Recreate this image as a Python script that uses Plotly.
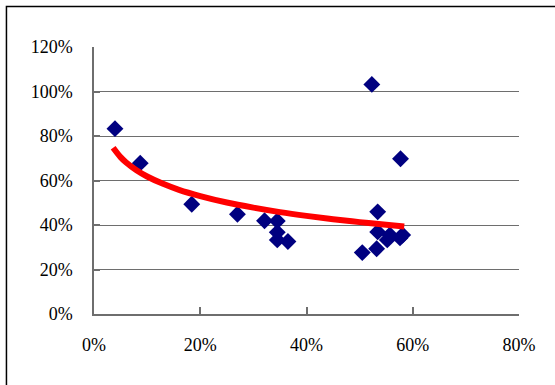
import plotly.graph_objects as go

# Scatter data (fractions)
x_pts = [0.0395, 0.087, 0.184, 0.270, 0.321, 0.345, 0.345, 0.345, 0.365,
         0.523, 0.577, 0.534, 0.534, 0.505, 0.532, 0.552, 0.557, 0.576, 0.581]
y_pts = [0.833, 0.678, 0.493, 0.448, 0.419, 0.418, 0.367, 0.333, 0.326,
         1.032, 0.698, 0.459, 0.369, 0.276, 0.293, 0.333, 0.355, 0.342, 0.355]

# Trend line points (fractions)
trend_x = [0.036, 0.05, 0.06, 0.08, 0.10, 0.13, 0.16, 0.20, 0.25, 0.30,
           0.35, 0.40, 0.45, 0.50, 0.55, 0.584]
trend_y = [0.747, 0.705, 0.682, 0.646, 0.618, 0.585, 0.558, 0.530, 0.501, 0.478,
           0.458, 0.441, 0.426, 0.413, 0.401, 0.393]

x_ticks = [0, 0.2, 0.4, 0.6, 0.8]
x_labels = ["0%", "20%", "40%", "60%", "80%"]
y_ticks = [0, 0.2, 0.4, 0.6, 0.8, 1.0, 1.2]
y_labels = ["0%", "20%", "40%", "60%", "80%", "100%", "120%"]

fig = go.Figure()
fig.add_trace(go.Scatter(
    x=x_pts, y=y_pts, mode="markers",
    marker=dict(symbol="diamond", size=13, color="#000080", line=dict(width=0)),
    showlegend=False, hoverinfo="skip"))
fig.add_trace(go.Scatter(
    x=trend_x, y=trend_y, mode="lines",
    line=dict(color="#FF0000", width=6, shape="spline"),
    showlegend=False, hoverinfo="skip"))

font = dict(family="Liberation Serif, Times New Roman, serif", size=18, color="#000000")

fig.update_layout(
    width=555, height=385,
    margin=dict(l=94, r=36, t=47, b=71),
    paper_bgcolor="white", plot_bgcolor="white",
    font=font,
    xaxis=dict(range=[0, 0.8], tickvals=x_ticks, ticktext=x_labels,
               showgrid=False, zeroline=False, showline=True,
               linecolor="#6e6e6e", linewidth=1.5,
               ticks="inside", ticklen=7, tickcolor="#6e6e6e", tickwidth=1.5,
               ticklabelstandoff=14, fixedrange=True, automargin=False),
    yaxis=dict(range=[0, 1.2], tickvals=y_ticks, ticktext=y_labels,
               showgrid=True, gridcolor="#6e6e6e", gridwidth=1.2,
               zeroline=False, showline=True,
               linecolor="#6e6e6e", linewidth=1.5,
               ticks="inside", ticklen=6, tickcolor="#6e6e6e", tickwidth=1.5,
               ticklabelstandoff=16, fixedrange=True, automargin=False),
    shapes=[
        dict(type="rect", xref="paper", yref="paper",
             x0=-0.206, x1=1.2, y0=-0.4, y1=1.152,
             line=dict(color="#000000", width=1.5), layer="above"),
    ],
)

fig.write_html("out.html",
               config={"displayModeBar": False},
               post_script="document.body.style.margin='0';document.body.style.overflow='hidden';")
